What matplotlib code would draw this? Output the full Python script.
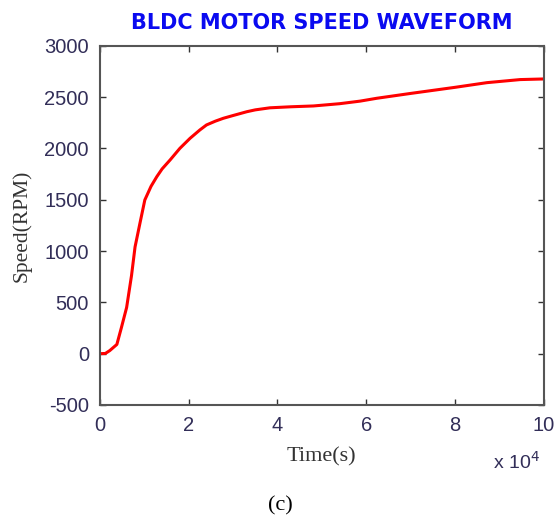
import matplotlib
matplotlib.use("Agg")
import matplotlib.pyplot as plt

plt.rcParams['axes.unicode_minus'] = False

# --- donnees (temps en unites de 10^4 s) ---
temps = [0, 0.12, 0.22, 0.38, 0.48, 0.60, 0.71, 0.79, 0.90, 1.01, 1.15, 1.28, 1.40, 1.58,
         1.80, 2.03, 2.25, 2.40, 2.60, 2.78, 3.00, 3.31, 3.50, 3.83, 4.30, 4.81, 5.40,
         5.86, 6.24, 7.00, 8.01, 8.72, 9.47, 10]
vitesse = [0, 2, 30, 90, 250, 450, 760, 1040, 1270, 1497, 1630, 1724, 1800, 1887,
           2000, 2098, 2179, 2228, 2265, 2293, 2320, 2357, 2375, 2395, 2405, 2413, 2435,
           2460, 2488, 2535, 2595, 2640, 2670, 2676]

x_ticks = [0, 2, 4, 6, 8, 10]
y_ticks = [-500, 0, 500, 1000, 1500, 2000, 2500, 3000]

tick_col = "#322e58"

fig = plt.figure(figsize=(5.57, 5.2), dpi=100)
ax = fig.add_axes([100/557, 1 - 405/520, 443.7/557, 359.3/520])

ax.plot(temps, vitesse, color="red", linewidth=2.2)

ax.set_xlim(0, 10)
ax.set_ylim(-500, 3000)
ax.set_xticks(x_ticks)
ax.set_yticks(y_ticks)
ax.tick_params(direction="in", length=4, width=1, color="#333333",
               top=True, right=True, labelsize=14.5, labelcolor=tick_col, pad=8)
for lab in ax.get_xticklabels() + ax.get_yticklabels():
    lab.set_family("Liberation Sans")
for s in ax.spines.values():
    s.set_color("#555555")
    s.set_linewidth(1.5)

ax.set_title("BLDC MOTOR SPEED WAVEFORM", color="#0a0af0", fontweight="bold",
             fontsize=15, family="DejaVu Sans", pad=12)
ax.set_xlabel("Time(s)", family="Liberation Serif", fontsize=16, color="#333333", labelpad=9)
ax.set_ylabel("Speed(RPM)", family="Liberation Serif", fontsize=15.5, color="#333333", labelpad=9)

# multiplicateur facon matlab
fig.text(493/557, 1 - 462/520, r"x 10$^{4}$", fontsize=14, color=tick_col,
         family="Liberation Sans", va="center", ha="left")

fig.text(280/557, 1 - 506/520, "(c)", fontsize=16, family="Liberation Serif",
         ha="center", va="center", color="black")

plt.savefig("out.png", dpi=100)
